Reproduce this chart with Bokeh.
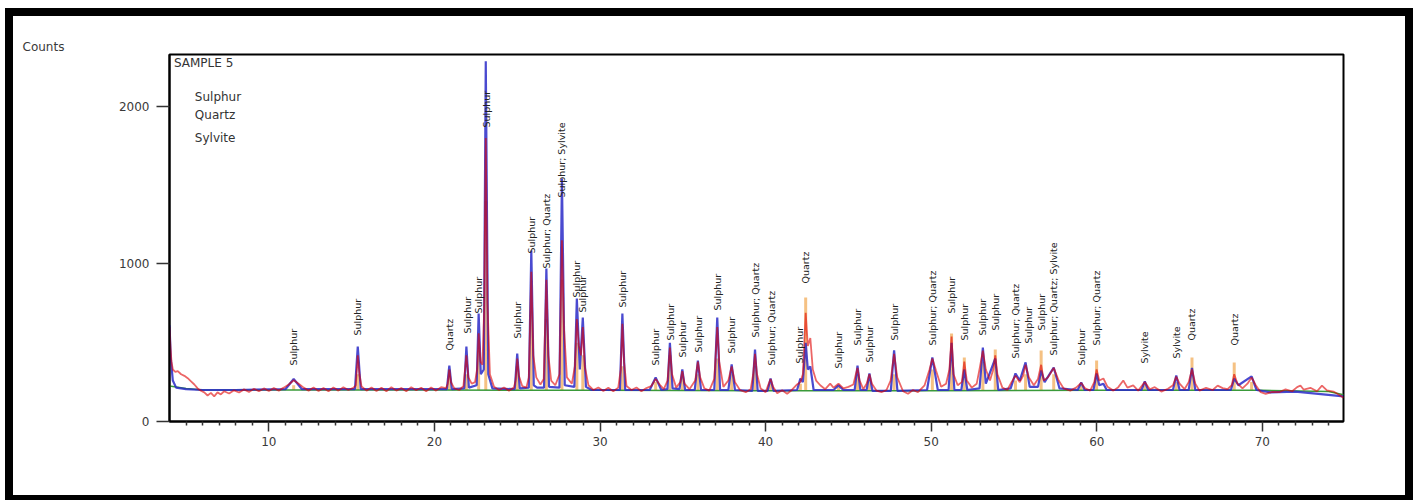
import numpy as np
from bokeh.plotting import figure
from bokeh.models import FixedTicker, Range1d, Label, Title
from bokeh.core.properties import value
from bokeh.embed import file_html
from bokeh.resources import INLINE

# ---------------- data ----------------
# observed (red) pattern: (2Theta, counts)
obs = [
    (4.0, 600), (4.06, 470), (4.12, 380), (4.2, 330), (4.35, 315), (4.5, 320), (4.7, 300), (4.9, 290),
    (5.1, 275), (5.3, 255), (5.5, 235), (5.7, 210), (5.9, 195), (6.1, 185), (6.3, 165), (6.5, 182),
    (6.7, 160), (6.9, 185), (7.1, 172), (7.3, 192), (7.6, 178), (7.9, 198), (8.2, 184), (8.5, 204),
    (8.8, 188), (9.1, 208), (9.4, 192), (9.7, 210), (10.0, 194), (10.3, 212), (10.6, 196), (10.9, 215),
    (11.2, 235), (11.5, 262), (11.8, 240), (12.1, 215), (12.4, 196), (12.7, 216), (13.0, 194), (13.3, 212),
    (13.6, 192), (13.9, 216), (14.2, 196), (14.5, 218), (14.8, 200), (15.1, 214), (15.25, 230), (15.37, 420),
    (15.47, 300), (15.6, 222), (15.9, 196), (16.2, 216), (16.5, 194), (16.8, 214), (17.1, 192), (17.4, 218),
    (17.7, 196), (18.0, 212), (18.3, 192), (18.6, 218), (18.9, 198), (19.2, 214), (19.5, 192), (19.8, 216),
    (20.1, 196), (20.4, 218), (20.7, 212), (20.8, 240), (20.9, 330), (21.0, 250), (21.2, 210), (21.5, 200),
    (21.75, 225), (21.93, 420), (22.05, 280), (22.25, 240), (22.45, 250), (22.58, 330), (22.67, 560),
    (22.78, 380), (22.9, 360), (23.0, 700), (23.1, 1800), (23.2, 760), (23.35, 300), (23.6, 220), (23.9, 200),
    (24.2, 216), (24.5, 196), (24.8, 215), (24.9, 260), (25.0, 400), (25.1, 290), (25.3, 225), (25.55, 215),
    (25.7, 280), (25.85, 950), (25.97, 420), (26.15, 280), (26.4, 235), (26.6, 270), (26.76, 900),
    (26.88, 420), (27.05, 260), (27.3, 230), (27.55, 300), (27.7, 1150), (27.82, 600), (28.0, 280),
    (28.3, 240), (28.48, 350), (28.6, 650), (28.72, 480), (28.85, 420), (28.96, 600), (29.08, 350),
    (29.3, 230), (29.6, 200), (29.9, 216), (30.2, 194), (30.5, 214), (30.8, 192), (31.1, 215), (31.25, 330),
    (31.35, 620), (31.45, 380), (31.6, 225), (31.9, 200), (32.2, 216), (32.5, 192), (32.8, 212), (33.1, 225),
    (33.36, 270), (33.6, 235), (33.85, 205), (34.08, 260), (34.22, 470), (34.35, 300), (34.6, 215),
    (34.85, 250), (34.97, 320), (35.1, 240), (35.4, 205), (35.75, 260), (35.91, 380), (36.05, 280),
    (36.3, 210), (36.6, 196), (36.9, 270), (37.08, 600), (37.2, 380), (37.45, 220), (37.75, 260),
    (37.95, 350), (38.15, 250), (38.45, 200), (38.8, 186), (39.1, 205), (39.25, 300), (39.36, 430),
    (39.48, 300), (39.7, 210), (40.0, 186), (40.15, 230), (40.3, 270), (40.45, 220), (40.7, 180),
    (41.0, 198), (41.3, 176), (41.6, 202), (41.9, 235), (42.1, 250), (42.25, 300), (42.42, 690),
    (42.55, 480), (42.7, 530), (42.85, 330), (43.05, 260), (43.3, 230), (43.6, 205), (43.9, 240),
    (44.1, 215), (44.4, 240), (44.7, 210), (45.0, 220), (45.3, 235), (45.45, 300), (45.55, 340),
    (45.68, 260), (45.9, 205), (46.1, 240), (46.27, 300), (46.42, 240), (46.7, 196), (47.0, 186),
    (47.3, 200), (47.55, 260), (47.76, 430), (47.95, 280), (48.3, 192), (48.6, 176), (48.9, 200),
    (49.2, 186), (49.6, 230), (49.9, 330), (50.07, 400), (50.3, 320), (50.6, 220), (50.9, 240),
    (51.1, 330), (51.23, 540), (51.35, 300), (51.6, 230), (51.85, 250), (52.0, 380), (52.15, 260),
    (52.45, 215), (52.75, 240), (52.95, 350), (53.12, 450), (53.3, 330), (53.55, 260), (53.75, 330),
    (53.87, 420), (54.0, 300), (54.3, 215), (54.6, 200), (54.85, 250), (55.09, 290), (55.35, 250),
    (55.55, 290), (55.7, 360), (55.9, 280), (56.2, 230), (56.45, 270), (56.64, 360), (56.8, 260),
    (57.05, 280), (57.4, 340), (57.7, 260), (58.0, 210), (58.4, 196), (58.75, 215), (59.06, 245),
    (59.3, 210), (59.6, 196), (59.85, 250), (59.99, 330), (60.15, 260), (60.4, 273), (60.65, 220),
    (61.0, 196), (61.3, 218), (61.6, 260), (61.85, 215), (62.2, 229), (62.5, 196), (62.9, 250),
    (63.2, 205), (63.5, 218), (63.9, 190), (64.3, 208), (64.6, 230), (64.8, 285), (65.0, 240),
    (65.3, 205), (65.55, 250), (65.75, 330), (65.95, 240), (66.2, 196), (66.6, 214), (67.0, 200),
    (67.3, 228), (67.6, 212), (67.9, 205), (68.15, 230), (68.3, 300), (68.5, 240), (68.8, 210),
    (69.1, 240), (69.35, 280), (69.6, 230), (69.9, 186), (70.2, 176), (70.6, 188), (71.0, 186),
    (71.4, 204), (71.8, 192), (72.1, 218), (72.3, 229), (72.5, 202), (72.9, 214), (73.3, 192),
    (73.6, 228), (73.9, 198), (74.3, 190), (74.6, 172), (74.9, 150),
]

# calculated (blue) profile: (2Theta, counts)
calc = [
    (4.0, 610), (4.08, 400), (4.2, 260), (4.4, 215), (5.0, 205), (6.0, 200), (8.0, 200), (11.0, 205),
    (11.5, 270), (12.0, 205), (15.2, 205), (15.37, 476), (15.55, 205), (20.75, 205), (20.9, 355),
    (21.05, 205), (21.8, 210), (21.93, 476), (22.08, 215), (22.55, 230), (22.67, 686), (22.8, 300),
    (22.98, 330), (23.1, 2287), (23.25, 300), (23.5, 210), (24.85, 205), (25.0, 432), (25.15, 210),
    (25.7, 215), (25.85, 1086), (26.0, 230), (26.2, 215), (26.62, 215), (26.76, 971), (26.92, 220),
    (27.55, 215), (27.7, 1543), (27.87, 230), (28.45, 220), (28.6, 781), (28.78, 330), (28.96, 660),
    (29.15, 220), (29.5, 200), (31.2, 200), (31.35, 686), (31.52, 200), (33.0, 200), (33.36, 280),
    (33.7, 200), (34.07, 205), (34.22, 500), (34.38, 210), (34.8, 205), (34.97, 330), (35.14, 200),
    (35.72, 200), (35.91, 387), (36.1, 200), (36.9, 200), (37.08, 660), (37.25, 200), (37.75, 200),
    (37.95, 362), (38.15, 200), (39.2, 195), (39.36, 457), (39.52, 195), (40.12, 195), (40.3, 273),
    (40.48, 195), (41.9, 200), (42.1, 273), (42.25, 250), (42.42, 500), (42.55, 330), (42.7, 350),
    (42.9, 200), (44.1, 200), (44.4, 229), (44.7, 200), (45.38, 200), (45.55, 355), (45.72, 200),
    (46.1, 200), (46.27, 305), (46.45, 195), (47.56, 195), (47.76, 451), (47.96, 195), (49.75, 200),
    (50.07, 406), (50.4, 200), (51.05, 200), (51.23, 500), (51.4, 200), (51.82, 200), (52.0, 330),
    (52.18, 200), (52.92, 210), (53.12, 470), (53.3, 240), (53.87, 400), (54.05, 200), (54.8, 210),
    (55.09, 305), (55.35, 260), (55.7, 375), (55.95, 220), (56.45, 220), (56.64, 324), (56.85, 250),
    (57.4, 343), (57.75, 210), (58.85, 200), (59.06, 248), (59.27, 200), (59.8, 200), (59.99, 305),
    (60.15, 230), (60.4, 240), (60.6, 200), (62.7, 200), (62.9, 254), (63.1, 200), (64.6, 200),
    (64.8, 292), (65.0, 200), (65.55, 200), (65.75, 340), (65.95, 200), (68.1, 200), (68.3, 273),
    (68.55, 230), (69.35, 286), (69.65, 200), (70.5, 185), (72.0, 190), (74.9, 160),
]

# background (green)
bg_theta = [4.0, 5.0, 6.0, 10.0, 20.0, 30.0, 40.0, 50.0, 60.0, 70.0, 74.0, 74.9]
bg_counts = [225, 210, 200, 200, 200, 198, 195, 195, 198, 198, 190, 170]

# reference pattern sticks (orange)
stick_theta = [11.5, 15.37, 20.9, 21.93, 22.67, 23.1, 25.0, 25.85, 26.76, 27.7, 28.6, 28.96, 31.35,
               33.36, 34.22, 34.97, 35.91, 37.08, 37.95, 39.36, 40.3, 42.1, 42.42, 44.4, 45.55,
               46.27, 47.76, 50.07, 51.23, 52.0, 53.12, 53.87, 55.09, 55.7, 56.64, 57.4, 59.06,
               59.99, 62.9, 64.8, 65.75, 68.3, 69.35]
stick_counts = [230, 300, 330, 300, 450, 1400, 350, 700, 650, 900, 500, 420, 350,
                250, 420, 280, 300, 400, 300, 350, 240, 240, 787, 220, 300,
                260, 300, 330, 559, 406, 380, 457, 260, 300, 451, 300, 230,
                387, 230, 250, 406, 375, 250]
stick_base = 200

# peak labels
label_theta = [11.5, 15.37, 20.9, 21.98, 22.67, 23.12, 25.0, 25.85, 26.76, 27.7, 28.6, 28.96, 31.35,
               33.36, 34.25, 34.97, 35.95, 37.08, 37.97, 39.4, 40.33, 42.04, 42.42, 44.4, 45.55,
               46.3, 47.76, 50.07, 51.25, 52.0, 53.1, 53.9, 55.1, 55.9, 56.65, 57.4, 59.06, 60.0,
               62.9, 64.8, 65.75, 68.3]
label_text = ["Sulphur", "Sulphur", "Quartz", "Sulphur", "Sulphur", "Sulphur", "Sulphur", "Sulphur",
              "Sulphur; Quartz", "Sulphur; Sylvite", "Sulphur", "Sulphur", "Sulphur",
              "Sulphur", "Sulphur", "Sulphur", "Sulphur", "Sulphur", "Sulphur", "Sulphur; Quartz",
              "Sulphur; Quartz", "Sulphur", "Quartz", "Sulphur", "Sulphur",
              "Sulphur", "Sulphur", "Sulphur; Quartz", "Sulphur", "Sulphur", "Sulphur", "Sulphur",
              "Sulphur; Quartz", "Sulphur", "Sulphur", "Sulphur; Quartz; Sylvite", "Sulphur",
              "Sulphur; Quartz", "Sylvite", "Sylvite", "Quartz", "Quartz"]
label_counts = [355, 546, 450, 559, 686, 1867, 527, 1067, 971, 1422, 787, 692, 724,
                355, 514, 406, 438, 705, 432, 533, 355, 368, 876, 337, 483,
                375, 514, 483, 686, 514, 546, 578, 400, 495, 578, 419, 355, 483,
                368, 400, 514, 483]

sample_name = "SAMPLE 5"
phases = ["Sulphur", "Quartz", "Sylvite"]
x_ticks = [10, 20, 30, 40, 50, 60, 70]
x_minor = [v for v in range(5, 75) if v % 10 != 0]
y_ticks = [0, 1000, 2000]

# ---------------- figure ----------------
p = figure(width=1392, height=479, output_backend="svg", toolbar_location=None,
           x_range=Range1d(4.0, 74.9), y_range=Range1d(0, 2330),
           min_border_left=156, min_border_right=62, min_border_top=38, min_border_bottom=74)
p.styles = {"margin-left": "13px", "margin-top": "16px",
            "outline": "8px solid black"}
p.background_fill_color = "white"
p.border_fill_color = "white"
p.outline_line_color = "black"
p.outline_line_width = 2
p.xgrid.visible = False
p.ygrid.visible = False

FONT = "DejaVu Sans"

p.add_layout(Title(text="Counts", align="left", offset=-147, standoff=2,
                   text_font=FONT, text_font_size="12px", text_font_style="normal",
                   text_color="#3a3a3a"), "above")

p.xaxis.ticker = FixedTicker(ticks=x_ticks, minor_ticks=x_minor)
p.yaxis.ticker = FixedTicker(ticks=y_ticks)
for ax in (p.xaxis, p.yaxis):
    ax.axis_line_color = "black"
    ax.axis_line_width = 2
    ax.major_tick_line_color = "#333333"
    ax.major_tick_line_width = 1.5
    ax.major_tick_in = 0
    ax.major_label_text_font = FONT
    ax.major_label_text_font_size = "12px"
    ax.major_label_text_color = "#3a3a3a"
p.xaxis.major_tick_out = 10
p.xaxis.minor_tick_out = 4
p.xaxis.minor_tick_in = 0
p.xaxis.minor_tick_line_color = "#333333"
p.xaxis.minor_tick_line_width = 1.5
p.xaxis.major_label_standoff = 5
p.yaxis.major_tick_out = 13
p.yaxis.minor_tick_line_color = None
p.yaxis.major_label_standoff = 7

# sticks
p.segment(x0=stick_theta, y0=[stick_base] * len(stick_theta), x1=stick_theta, y1=stick_counts,
          line_color="#f0a040", line_width=3, line_alpha=0.65)

# background
p.line(bg_theta, bg_counts, line_color="#3a9a3a", line_width=1.5)

# calculated
calc_theta = [t for t, c in calc]
calc_counts = [c for t, c in calc]
p.line(calc_theta, calc_counts, line_color="#2a2ac8", line_width=2.2, line_alpha=0.85)

# observed
obs_theta = [t for t, c in obs]
obs_counts = [c for t, c in obs]
p.line(obs_theta, obs_counts, line_color="#e00000", line_width=1.8, line_alpha=0.6)

# peak labels
p.text(x=label_theta, y=label_counts, text=label_text, angle=np.pi / 2,
       text_align="left", text_baseline="middle", text_font=value(FONT),
       text_font_size="9.5px", text_color="#222222")

# annotations
p.add_layout(Label(x=4.27, y=2279, text=sample_name, text_font=FONT, text_font_size="12px",
                   text_baseline="middle", text_color="#333333"))
for name, yy in zip(phases, [2063, 1943, 1803]):
    p.add_layout(Label(x=5.53, y=yy, text=name, text_font=FONT, text_font_size="12px",
                       text_baseline="middle", text_color="#333333"))
p.add_layout(Label(x=41.45, y=-254, text="Position [°2Theta] (Copper (Cu))", text_font=FONT,
                   text_font_size="12px", text_align="center", text_baseline="middle",
                   text_color="#3a3a3a"))

open("out.html", "w").write(file_html(p, INLINE))
